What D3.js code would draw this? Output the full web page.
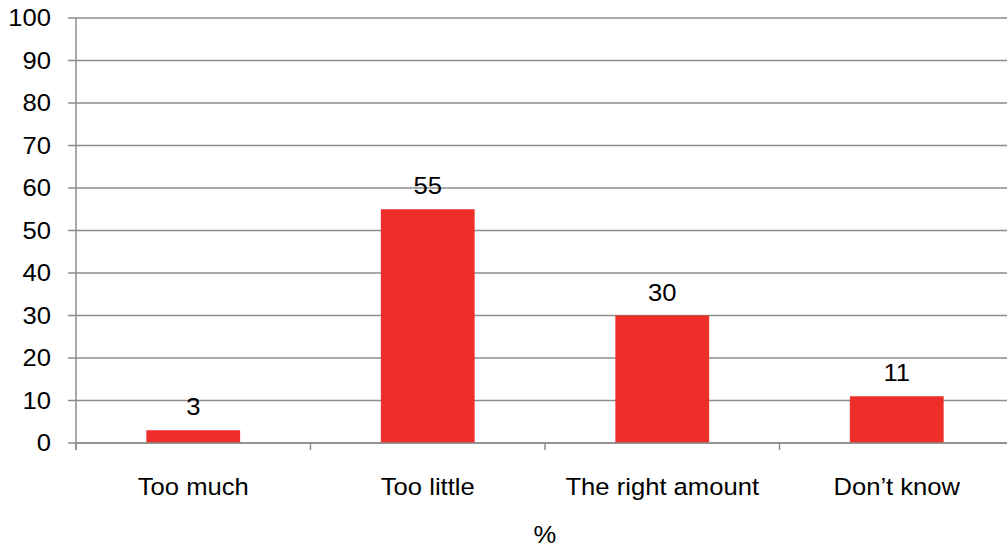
<!DOCTYPE html>
<html><head><meta charset="utf-8">
<script src="https://cdn.jsdelivr.net/npm/d3@7"></script>
<style>body{margin:0;background:#fff;overflow:hidden}svg{display:block;font-family:"Liberation Sans",Arial,sans-serif}</style>
</head><body><svg id="c" width="1007" height="547"></svg>
<script>
const categories = ["Too much", "Too little", "The right amount", "Don\u2019t know"];
const values = [3, 55, 30, 11];
const yTicks = [0,10,20,30,40,50,60,70,80,90,100];
const xTitle = "%";

(function(){
const svg = d3.select("#c");
const mL = 76, mR = 1014, mT = 18, mB = 443;
const FS = 23.5, SX = 1.09;
const x = d3.scaleBand().domain(categories).range([mL, mR]).paddingInner(0.6).paddingOuter(0.3);
const y = d3.scaleLinear().domain([0,100]).range([mB, mT]);
const grid = "#8c8c8c";

svg.append("g").selectAll("line").data(yTicks).join("line")
  .attr("x1", mL - 8).attr("x2", mR).attr("y1", d => y(d)).attr("y2", d => y(d))
  .attr("stroke", grid).attr("stroke-width", 1.5);

svg.append("g").selectAll("text").data(yTicks).join("text")
  .attr("transform", d => `translate(51,${y(d)}) scale(${SX},1)`).attr("dy", "0.35em").attr("text-anchor", "end")
  .attr("font-size", FS).attr("fill", "#000").text(d => d);

svg.append("g").selectAll("rect").data(values).join("rect")
  .attr("x", (d,i) => x(categories[i])).attr("width", x.bandwidth())
  .attr("y", d => y(d)).attr("height", d => y(0) - y(d)).attr("fill", "#ee2e28");

svg.append("line").attr("x1", mL).attr("x2", mR).attr("y1", mB).attr("y2", mB)
  .attr("stroke", grid).attr("stroke-width", 1.5);
svg.append("line").attr("x1", mL).attr("x2", mL).attr("y1", mT).attr("y2", mB + 7)
  .attr("stroke", grid).attr("stroke-width", 1.5);
const bounds = categories.map(c => x(c) - x.step()*x.paddingOuter());
svg.append("g").selectAll("line").data(bounds).join("line")
  .attr("x1", d => d).attr("x2", d => d).attr("y1", mB).attr("y2", mB + 7)
  .attr("stroke", grid).attr("stroke-width", 1.5);

svg.append("g").selectAll("text").data(values).join("text")
  .attr("transform", (d,i) => `translate(${x(categories[i]) + x.bandwidth()/2},${y(d) - 15}) scale(${SX},1)`)
  .attr("text-anchor", "middle").attr("font-size", FS).attr("fill", "#000").text(d => d);

svg.append("g").selectAll("text").data(categories).join("text")
  .attr("transform", d => `translate(${x(d) + x.bandwidth()/2},495) scale(${SX},1)`)
  .attr("text-anchor", "middle").attr("font-size", FS).attr("fill", "#000").text(d => d);

svg.append("text").attr("transform", `translate(545,543) scale(${SX},1)`).attr("text-anchor", "middle")
  .attr("font-size", FS).attr("fill", "#000").text(xTitle);
})();
</script></body></html>
